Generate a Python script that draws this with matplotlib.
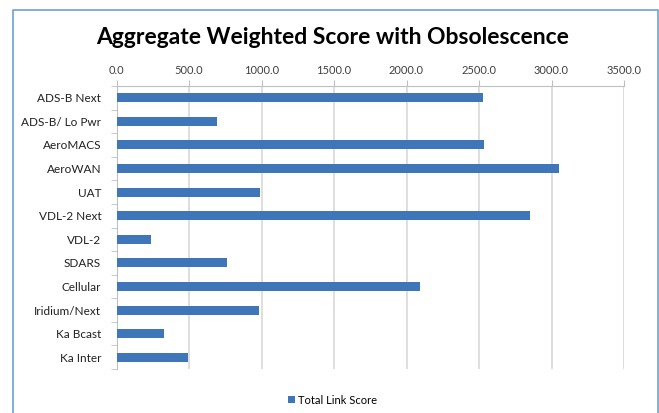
import matplotlib.pyplot as plt
from matplotlib.lines import Line2D
import numpy as np

links = ['ADS-B Next', 'ADS-B/ Lo Pwr', 'AeroMACS', 'AeroWAN', 'UAT', 'VDL-2 Next',
         'VDL-2', 'SDARS', 'Cellular', 'Iridium/Next', 'Ka Bcast', 'Ka Inter']
scores = [2530, 690, 2535, 3050, 990, 2850, 235, 760, 2090, 985, 330, 490]
xticks = [0, 500, 1000, 1500, 2000, 2500, 3000, 3500]
series_name = 'Total Link Score'

plt.rcParams['font.family'] = ['Lato', 'DejaVu Sans']

W, H = 659, 413
fig = plt.figure(figsize=(W / 100, H / 100), dpi=100)
ax = fig.add_axes([116.5 / W, 1 - 369 / H, (624 - 116.5) / W, (369 - 86) / H])

y = np.arange(len(links))
bars = ax.barh(y, scores, height=0.38, color='#3f76b9', label=series_name, zorder=3)

ax.set_xlim(0, 3500)
ax.set_ylim(len(links) - 0.5, -0.5)
ax.set_xticks(xticks)
ax.set_xticklabels(['%.1f' % v for v in xticks])
ax.xaxis.tick_top()
ax.set_yticks(y)
ax.set_yticklabels(links)
ax.set_yticks(np.arange(len(links) + 1) - 0.5, minor=True)

ax.grid(axis='x', color='#d9d9d9', linewidth=1.2, zorder=0)
for s in ['right', 'bottom']:
	ax.spines[s].set_visible(False)
ax.spines['top'].set_color('#bfbfbf')
ax.spines['left'].set_color('#bfbfbf')
ax.tick_params(axis='x', which='major', length=4, color='#bfbfbf', labelsize=8,
               labelcolor='#404040', pad=3)
ax.tick_params(axis='y', which='major', length=0, labelsize=8.5, labelcolor='#202020', pad=11)
ax.tick_params(axis='y', which='minor', length=4, color='#bfbfbf')

fig.text(0.505, 1 - 38 / H, 'Aggregate Weighted Score with Obsolescence', ha='center', va='center',
         fontsize=16.5, fontweight='bold', color='#000000')

fig.legend(handles=[bars], labels=[series_name], loc='center', bbox_to_anchor=(0.505, 1 - 400 / H),
           frameon=False, fontsize=8, handlelength=0.6, handleheight=0.6, handletextpad=0.3)

# chart border (bottom edge is cut off in the reference)
bx0, bx1, by0 = 12.5 / W, 657.5 / W, 1 - 10 / H
fig.add_artist(Line2D([bx0, bx0, bx1, bx1], [0, by0, by0, 0], transform=fig.transFigure,
                      color='#6f9fd6', linewidth=1.2))

fig.savefig('out.png', dpi=100)
